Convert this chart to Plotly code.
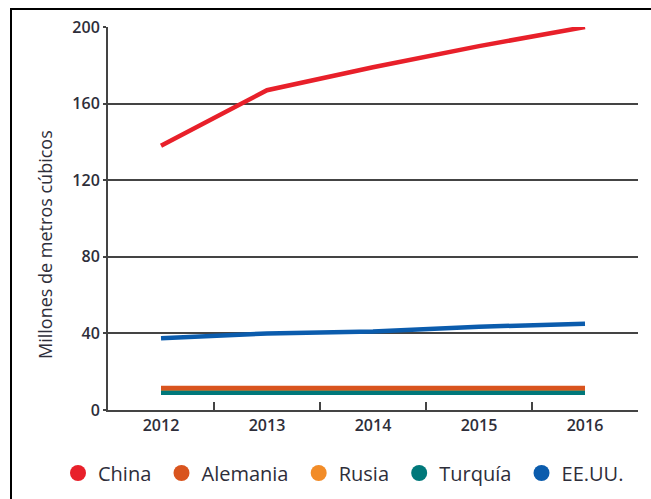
import plotly.graph_objects as go

# Consumo por país, millones de metros cúbicos
years = ["2012", "2013", "2014", "2015", "2016"]
china = [138, 167, 179, 190, 200]
alemania = [11.5, 11.5, 11.5, 11.5, 11.5]
rusia = [11, 11, 11, 11, 11]
turquia = [9, 9, 9, 9, 9]
eeuu = [37.5, 40, 41, 43.5, 45]

series = [
    ("China", china, "#E8202A", 1),
    ("Alemania", alemania, "#D9541E", 2),
    ("Rusia", rusia, "#F28C28", 3),
    ("Turquía", turquia, "#00787A", 4),
    ("EE.UU.", eeuu, "#0B5CAD", 5),
]

# drawing order: Rusia sits underneath Alemania
draw_order = ["Rusia", "Turquía", "Alemania", "EE.UU.", "China"]

W, H = 651, 499
L, R, T, B = 108, 13, 27, 89
pw, ph = W - L - R, H - T - B

def px_x(x):
    return (x - L) / pw

def px_y(y):
    return (H - B - y) / ph

fig = go.Figure()
lookup = {s[0]: s for s in series}
for name in draw_order:
    _, vals, color, rank = lookup[name]
    fig.add_trace(go.Scatter(
        x=years, y=vals, mode="lines", name=name,
        line=dict(color=color, width=4.5),
        showlegend=False, legendgroup=name, hoverinfo="x+y+name",
    ))
# legend entries as round markers; a trailing no-break space widens the gap
for name, vals, color, rank in series:
    fig.add_trace(go.Scatter(
        x=[None], y=[None], mode="markers", name=name + "\u00a0",
        marker=dict(color=color, size=16),
        legendgroup=name, legendrank=rank, hoverinfo="skip",
    ))

text_color = "#2e2e3a"
fig.update_layout(
    width=W, height=H,
    margin=dict(l=L, r=R, t=T, b=B, autoexpand=False),
    paper_bgcolor="white", plot_bgcolor="white",
    font=dict(family="Open Sans", color=text_color),
    showlegend=True,
    legend=dict(
        orientation="h", x=px_x(58), xanchor="left",
        y=px_y(473), yanchor="middle",
        font=dict(size=20, color=text_color),
        itemsizing="trace", traceorder="normal",
    ),
    xaxis=dict(
        type="category", range=[-0.5, 4.5],
        tickson="boundaries", ticks="inside", ticklen=8, tickwidth=2,
        tickcolor="#444", showline=True, linecolor="#444", linewidth=2,
        showgrid=False, tickfont=dict(size=16, weight=600, color=text_color),
        fixedrange=True,
    ),
    yaxis=dict(
        range=[0, 200], dtick=40, tick0=0,
        showgrid=True, gridcolor="#444", gridwidth=2,
        showline=True, linecolor="#444", linewidth=2,
        ticks="outside", ticklen=3, tickwidth=2, tickcolor="#444",
        zeroline=False,
        tickfont=dict(size=16, weight=600, color=text_color),
        fixedrange=True,
    ),
    annotations=[dict(
        text="Millones de metros cúbicos", textangle=-90,
        xref="paper", yref="paper", x=px_x(45), y=px_y(245),
        xanchor="center", yanchor="middle", showarrow=False,
        font=dict(size=18, color=text_color),
    )],
    shapes=[
        dict(type="line", xref="paper", yref="paper",
             x0=px_x(10), x1=px_x(W + 5), y0=px_y(9), y1=px_y(9),
             line=dict(color="black", width=2)),
        dict(type="line", xref="paper", yref="paper",
             x0=px_x(11), x1=px_x(11), y0=px_y(8), y1=px_y(H + 5),
             line=dict(color="black", width=2)),
    ],
)

fig.write_html("out.html")
